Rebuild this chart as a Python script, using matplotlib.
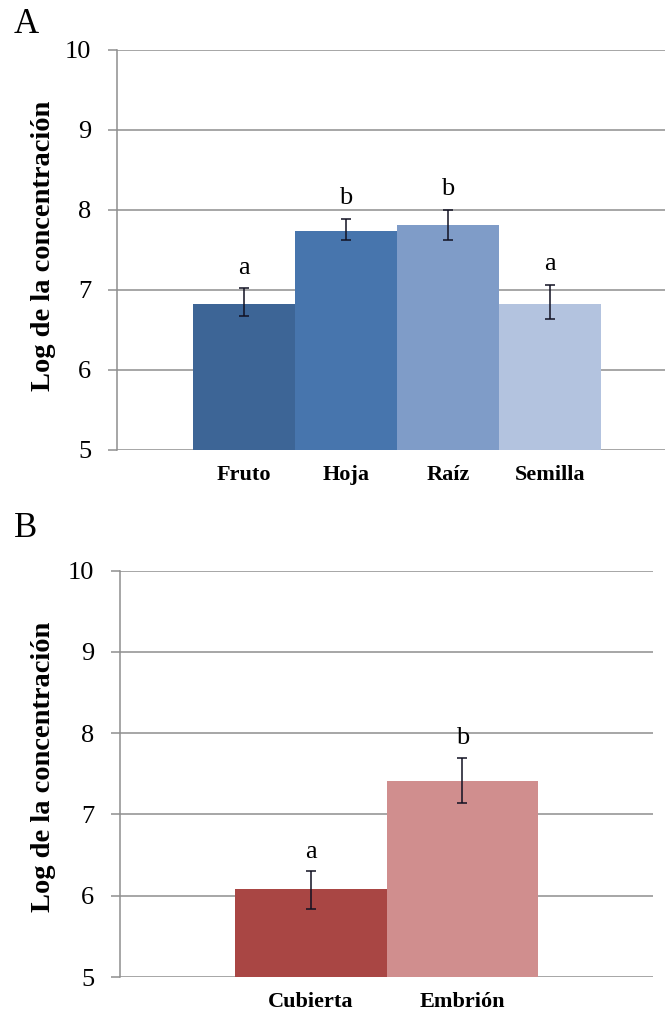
import matplotlib
matplotlib.use("Agg")
import matplotlib.pyplot as plt

# ---- data ----
cats_a = ["Fruto", "Hoja", "Raíz", "Semilla"]
vals_a = [6.83, 7.74, 7.81, 6.83]
err_lo_a = [0.16, 0.12, 0.19, 0.19]
err_hi_a = [0.19, 0.15, 0.19, 0.23]
letters_a = ["a", "b", "b", "a"]
colors_a = ["#3D6596", "#4775AD", "#7F9CC8", "#B3C3DF"]

cats_b = ["Cubierta", "Embrión"]
vals_b = [6.08, 7.41]
err_lo_b = [0.24, 0.27]
err_hi_b = [0.22, 0.29]
letters_b = ["a", "b"]
colors_b = ["#A94644", "#D08E8E"]

yticks = [5, 6, 7, 8, 9, 10]
ylabel = "Log de la concentración"

W, H = 665, 1013
plt.rcParams['font.family'] = ['Liberation Serif', 'DejaVu Serif']
fig = plt.figure(figsize=(W / 100, H / 100), dpi=100)

GRID = "#8E8E8E"


def panel(rect, cats, vals, lo, hi, letters, colors, xlim, letter_off):
    ax = fig.add_axes(rect)
    x = list(range(len(cats)))
    ax.bar(x, vals, width=1.0, color=colors, bottom=0, zorder=2)
    ax.errorbar(x, vals, yerr=[lo, hi], fmt="none", ecolor="#111122",
                elinewidth=1.1, capsize=3.8, capthick=1.1, zorder=3)
    for xi, v, h, t in zip(x, vals, hi, letters):
        ax.annotate(t, (xi, v + h), xytext=(0, letter_off), textcoords="offset points",
                    ha="center", va="bottom", fontsize=19, zorder=4)
    ax.set_ylim(5, 10)
    ax.set_xlim(*xlim)
    ax.set_yticks(yticks)
    ax.set_yticklabels([str(t) for t in yticks], fontsize=19)
    ax.set_xticks(x)
    ax.set_xticklabels(cats, fontsize=16, fontweight="bold")
    ax.yaxis.grid(True, color=GRID, linewidth=1.1, zorder=0)
    ax.set_axisbelow(True)
    for s in ["top", "right", "bottom"]:
        ax.spines[s].set_visible(False)
    ax.spines["left"].set_color(GRID)
    ax.spines["left"].set_linewidth(1.1)
    ax.tick_params(axis="y", length=6.5, width=1.1, color=GRID, pad=12)
    ax.tick_params(axis="x", length=0, pad=11)
    return ax


def fx(px):
    return px / W


def fy(py):
    return 1 - py / H


# Panel A: axis x 117..677 (clipped by image), y 50..450
axA = panel([fx(117), fy(450), fx(677) - fx(117), fy(50) - fy(450)],
            cats_a, vals_a, err_lo_a, err_hi_a, letters_a, colors_a,
            (-1.25, 4.25), 7)
# Panel B: axis x 120..653, y 570.7..977
axB = panel([fx(120), fy(977), fx(653) - fx(120), fy(570.7) - fy(977)],
            cats_b, vals_b, err_lo_b, err_hi_b, letters_b, colors_b,
            (-1.257, 2.257), 6)

fig.text(fx(44), fy(246), ylabel, rotation=90, ha="center", va="center",
         fontsize=20.5, fontweight="bold")
fig.text(fx(44), fy(767), ylabel, rotation=90, ha="center", va="center",
         fontsize=20.5, fontweight="bold")

fig.text(fx(14), fy(33), "A", fontsize=25, ha="left", va="baseline")
fig.text(fx(14), fy(537), "B", fontsize=25, ha="left", va="baseline")

fig.savefig("out.png", dpi=100, facecolor="white")
